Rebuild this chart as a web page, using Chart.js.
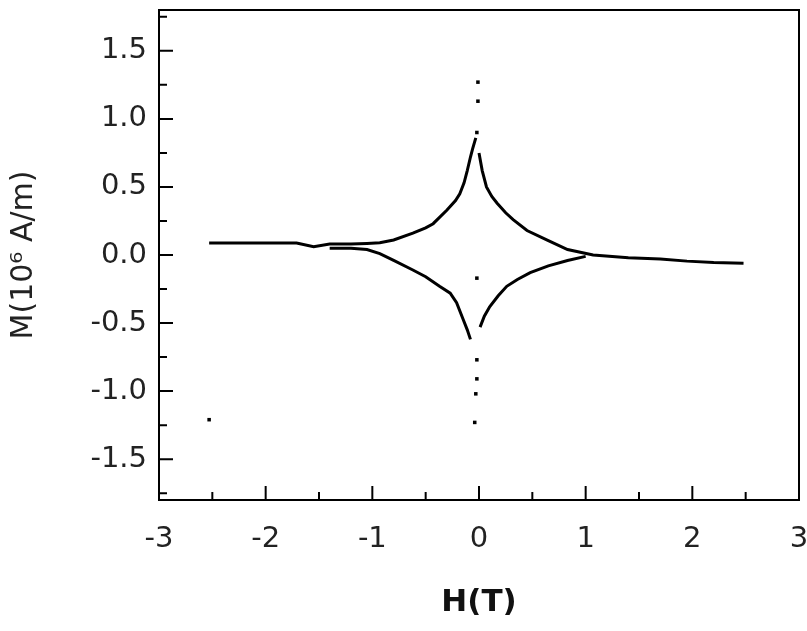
<!DOCTYPE html>
<html>
<head>
<meta charset="utf-8">
<script src="https://cdn.jsdelivr.net/npm/chart.js@4/dist/chart.umd.min.js"></script>
<style>
  html, body { margin: 0; padding: 0; background: #fff; }
  #wrap { width: 807px; height: 631px; }
</style>
</head>
<body>
<div id="wrap"><canvas id="chartLazo"></canvas></div>
<script>
// rama superior, lado izquierdo (H en T, M en 10^6 A/m)
const upperLeftH = [-2.53, -2.2, -1.9, -1.71, -1.55, -1.4, -1.2, -1.05, -0.93, -0.8, -0.62, -0.5, -0.43, -0.3, -0.22, -0.18, -0.14, -0.11, -0.08, -0.06, -0.03];
const upperLeftM = [0.088, 0.088, 0.088, 0.088, 0.06, 0.08, 0.08, 0.085, 0.09, 0.11, 0.16, 0.2, 0.23, 0.33, 0.4, 0.45, 0.53, 0.62, 0.72, 0.78, 0.86];
// rama superior, lado derecho
const upperRightH = [0.0, 0.03, 0.07, 0.12, 0.17, 0.25, 0.32, 0.45, 0.64, 0.83, 1.07, 1.4, 1.7, 1.95, 2.2, 2.48];
const upperRightM = [0.75, 0.62, 0.5, 0.43, 0.38, 0.31, 0.26, 0.18, 0.11, 0.04, 0.0, -0.02, -0.03, -0.045, -0.055, -0.06];
// rama inferior
const lowerLeftH = [-1.4, -1.2, -1.05, -0.93, -0.8, -0.62, -0.5, -0.37, -0.27, -0.21, -0.15, -0.11, -0.08];
const lowerLeftM = [0.05, 0.05, 0.04, 0.01, -0.04, -0.11, -0.16, -0.23, -0.28, -0.35, -0.47, -0.55, -0.62];
const lowerRightH = [0.01, 0.05, 0.1, 0.18, 0.26, 0.36, 0.48, 0.65, 0.83, 1.0];
const lowerRightM = [-0.53, -0.45, -0.38, -0.3, -0.23, -0.18, -0.13, -0.08, -0.04, -0.01];
// puntos sueltos
const dotsH = [-0.01, -0.01, -0.02, -0.02, -0.02, -0.02, -0.03, -0.04, -2.53];
const dotsM = [1.27, 1.13, 0.9, -0.17, -0.77, -0.91, -1.02, -1.23, -1.21];

const xTicks = [-3, -2, -1, 0, 1, 2, 3];
const yTicks = [-1.5, -1.0, -0.5, 0.0, 0.5, 1.0, 1.5];

const FONT = "'DejaVu Sans', 'Liberation Sans', sans-serif";

function puntos(hs, ms) {
    return hs.map((h, i) => ({ x: h, y: ms[i] }));
}

function rama(hs, ms) {
    return {
        type: "line",
        data: puntos(hs, ms),
        borderColor: "#000",
        borderWidth: 3,
        pointRadius: 0,
        tension: 0,
        fill: false
    };
}

const marcoYTicks = {
    id: "marcoYTicks",
    afterDraw(chart) {
        const { ctx, chartArea: a, scales } = chart;
        const x = scales.x, y = scales.y;
        ctx.save();
        ctx.strokeStyle = "#000";
        ctx.lineWidth = 2;
        ctx.strokeRect(a.left, a.top, a.right - a.left, a.bottom - a.top);
        ctx.beginPath();
        for (let i = 0; i < xTicks.length; i++) {
            const px = x.getPixelForValue(xTicks[i]);
            ctx.moveTo(px, a.bottom);
            ctx.lineTo(px, a.bottom - 14);
            if (i < xTicks.length - 1) {
                const pm = x.getPixelForValue(xTicks[i] + 0.5);
                ctx.moveTo(pm, a.bottom);
                ctx.lineTo(pm, a.bottom - 8);
            }
        }
        for (let i = 0; i < yTicks.length; i++) {
            const py = y.getPixelForValue(yTicks[i]);
            ctx.moveTo(a.left, py);
            ctx.lineTo(a.left + 14, py);
        }
        const yMinor = [-1.75, -1.25, -0.75, -0.25, 0.25, 0.75, 1.25, 1.75];
        yMinor.forEach(v => {
            const py = y.getPixelForValue(v);
            ctx.moveTo(a.left, py);
            ctx.lineTo(a.left + 8, py);
        });
        ctx.stroke();
        ctx.restore();
    }
};

new Chart(document.getElementById("chartLazo"), {
    type: "scatter",
    data: {
        datasets: [
            rama(upperLeftH, upperLeftM),
            rama(upperRightH, upperRightM),
            rama(lowerLeftH, lowerLeftM),
            rama(lowerRightH, lowerRightM),
            {
                type: "scatter",
                data: puntos(dotsH, dotsM),
                backgroundColor: "#000",
                borderWidth: 0,
                pointStyle: "rect",
                pointRadius: 2.5
            }
        ]
    },
    options: {
        responsive: true,
        maintainAspectRatio: false,
        animation: false,
        layout: { padding: { left: 0, right: 8, top: 10, bottom: 0 } },
        plugins: { legend: { display: false }, tooltip: { enabled: false } },
        scales: {
            x: {
                type: "linear",
                min: -3,
                max: 3,
                afterBuildTicks: s => { s.ticks = xTicks.map(v => ({ value: v })); },
                afterFit: s => { s.height = 131; s.paddingLeft = 0; s.paddingRight = 0; },
                grid: { display: false, drawTicks: false },
                border: { display: false },
                ticks: {
                    color: "#222",
                    font: { family: FONT, size: 29 },
                    padding: 22,
                    maxRotation: 0,
                    autoSkip: false,
                    callback: v => String(v)
                },
                title: {
                    display: true,
                    text: "H(T)",
                    color: "#111",
                    font: { family: FONT, size: 31, weight: "bold" },
                    padding: { top: 0, bottom: 9 }
                }
            },
            y: {
                type: "linear",
                min: -1.8,
                max: 1.8,
                afterBuildTicks: s => { s.ticks = yTicks.map(v => ({ value: v })); },
                afterFit: s => { s.width = 159; s.paddingTop = 0; s.paddingBottom = 0; },
                grid: { display: false, drawTicks: false },
                border: { display: false },
                ticks: {
                    color: "#222",
                    font: { family: FONT, size: 29 },
                    padding: 12,
                    autoSkip: false,
                    callback: v => v.toFixed(1)
                },
                title: {
                    display: true,
                    text: "M(10\u2076 A/m)",
                    color: "#222",
                    font: { family: FONT, size: 30 },
                    padding: { top: 6, bottom: 0 }
                }
            }
        }
    },
    plugins: [marcoYTicks]
});
</script>
</body>
</html>
